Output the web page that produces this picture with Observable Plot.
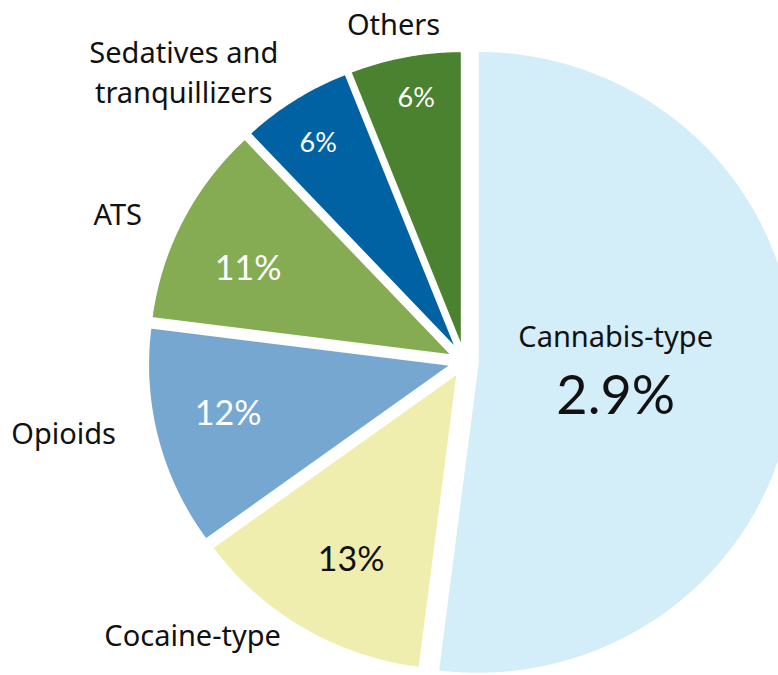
<!DOCTYPE html>
<html>
<head>
<meta charset="utf-8">
<script src="https://cdn.jsdelivr.net/npm/d3@7"></script>
<script src="https://cdn.jsdelivr.net/npm/@observablehq/plot@0.6"></script>
<style>
  html, body { margin: 0; padding: 0; background: #ffffff; }
  #chart svg { display: block; }
</style>
</head>
<body>
<div id="chart"></div>
<script>
// ---- data ----
const categories = ["Cannabis-type", "Cocaine-type", "Opioids", "ATS", "Sedatives and\ntranquillizers", "Others"];
const shares = [52, 13, 12, 11, 6, 6];
const valueLabels = ["2.9%", "13%", "12%", "11%", "6%", "6%"];
const colors = ["#d3edf9", "#f0eeaf", "#75a7d1", "#86ac53", "#0062a3", "#4a822f"];

// ---- layout / style ----
const W = 778, H = 675;
const cx = 464, cy = 361, kx = 304, ky = 298;      // pie centre in pixels and pixels per radius unit
const explode = 0.043;                               // every slice pulled out along its bisector
const sliceRadius = [1.046, 1, 1, 1, 1, 1];
const innerLabelAngle = [93, 209.1, 257.4, 293.4, 326.6, 349.8];
const innerLabelR = [0.455, 0.722, 0.754, 0.734, 0.832, 0.853];
const outerLabelAngle = [null, 224.4, 260, 293.7, 316.6, 348.4];
const outerLabelR = [null, 1.278, 1.339, 1.246, 1.344, 1.161];
const valueFontSize = [54, 34, 34, 34, 27, 27];
const valueFill = ["#111", "#111", "#fff", "#fff", "#fff", "#fff"];
const labelFont = "'Noto Sans', 'Open Sans', sans-serif";
const valueFont = "Lato, 'Noto Sans', sans-serif";

const xDomain = [-cx / kx, (W - cx) / kx];
const yDomain = [-(H - cy) / ky, cy / ky];

const arcs = d3.pie().sort(null).value((d, i) => shares[i])(categories);

const polys = [];
const marks = [];
arcs.forEach((a, i) => {
  const cat = categories[i];
  const mid = (a.startAngle + a.endAngle) / 2;
  const ox = explode * Math.sin(mid), oy = explode * Math.cos(mid);
  const r = sliceRadius[i];
  polys.push({cat, x: ox, y: oy});
  const n = Math.max(2, Math.ceil((a.endAngle - a.startAngle) / (Math.PI / 360)));
  for (let k = 0; k <= n; k++) {
    const t = a.startAngle + (a.endAngle - a.startAngle) * k / n;
    polys.push({cat, x: ox + r * Math.sin(t), y: oy + r * Math.cos(t)});
  }
  polys.push({cat, x: ox, y: oy});
});

marks.push(Plot.line(polys, {
  x: "x", y: "y", z: "cat", fill: "cat",
  stroke: "white", strokeWidth: 2.5, curve: "linear"
}));

arcs.forEach((a, i) => {
  const mid = (a.startAngle + a.endAngle) / 2;
  const ox = explode * Math.sin(mid), oy = explode * Math.cos(mid);
  const ri = innerLabelR[i], ai = innerLabelAngle[i] * Math.PI / 180;
  const ip = {x: ox + ri * Math.sin(ai), y: oy + ri * Math.cos(ai)};
  if (outerLabelAngle[i] == null) {
    // label inside the slice: name above, value below
    marks.push(Plot.text([ip], {
      x: "x", y: "y", text: () => categories[i], dy: -32,
      fontFamily: labelFont, fontSize: 29, fill: "#111"
    }));
    marks.push(Plot.text([ip], {
      x: "x", y: "y", text: () => valueLabels[i], dy: 27,
      fontFamily: valueFont, fontWeight: 400, fontSize: valueFontSize[i], fill: valueFill[i]
    }));
  } else {
    marks.push(Plot.text([ip], {
      x: "x", y: "y", text: () => valueLabels[i],
      fontFamily: valueFont, fontWeight: 400, fontSize: valueFontSize[i], fill: valueFill[i]
    }));
    const ang = outerLabelAngle[i] * Math.PI / 180, ro = outerLabelR[i];
    marks.push(Plot.text([{x: ro * Math.sin(ang), y: ro * Math.cos(ang)}], {
      x: "x", y: "y", text: () => categories[i], lineHeight: 1.38,
      fontFamily: labelFont, fontSize: 29, fill: "#111"
    }));
  }
});

const chart = Plot.plot({
  width: W, height: H, margin: 0,
  x: {domain: xDomain, axis: null},
  y: {domain: yDomain, axis: null},
  color: {domain: categories, range: colors},
  style: {background: "#ffffff", overflow: "hidden"},
  marks
});
document.getElementById("chart").appendChild(chart);
</script>
</body>
</html>
